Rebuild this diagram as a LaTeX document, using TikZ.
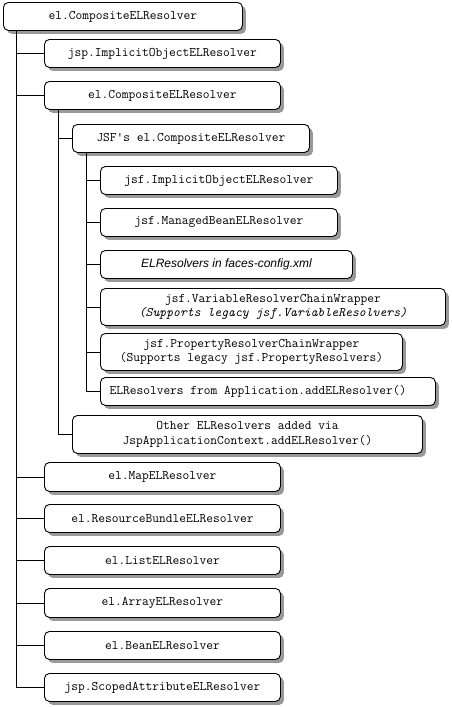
\documentclass[tikz,border=0pt]{standalone}
\usepackage{fontspec}
\newfontfamily\monofam{Latin Modern Mono}
\newfontfamily\sansfam{Liberation Sans}
\usetikzlibrary{shadows}
\tikzset{
  rbox/.style={draw=black, line width=0.9pt, fill=white, rounded corners=5pt, anchor=north west,
    inner sep=0pt, align=center, font=\monofam\fontsize{13.1}{14.5}\selectfont,
    drop shadow={shadow xshift=3.5pt, shadow yshift=-3.5pt, fill=black!40, opacity=1}},
  conn/.style={line width=0.9pt, black}
}
\newcommand{\rb}[6]{\node[rbox, minimum width=#3pt, minimum height=#4pt] (#5) at (#1,-#2) {#6};}
\begin{document}
\begin{tikzpicture}[x=1pt,y=1pt]
\useasboundingbox (0,0) rectangle (451,-707);
\rb{3}{2}{239}{28}{root}{el.CompositeELResolver}
\rb{44}{39}{236}{28}{ijsp}{jsp.ImplicitObjectELResolver}
\rb{44}{81}{236}{28}{comp}{el.CompositeELResolver}
\rb{72}{124}{237}{28}{jsfc}{JSF's el.CompositeELResolver}
\rb{100}{166}{237}{28}{jimp}{jsf.ImplicitObjectELResolver}
\rb{100}{208}{237}{28}{jmb}{jsf.ManagedBeanELResolver}
\rb{100}{250}{252}{28}{efc}{\sansfam\itshape\fontsize{12}{14}\selectfont ELResolvers in faces-config.xml}
\rb{100}{288}{345}{37}{jvr}{jsf.VariableResolverChainWrapper\\\itshape (Supports legacy jsf.VariableResolvers)}
\rb{100}{333}{302}{37}{jpr}{jsf.PropertyResolverChainWrapper\\(Supports legacy jsf.PropertyResolvers)}
\rb{100}{377}{335}{28}{eapp}{ELResolvers from Application.addELResolver()\hspace{20pt}}
\rb{72}{415}{350}{38}{other}{Other ELResolvers added via\\JspApplicationContext.addELResolver()}
\rb{44}{462}{236}{29}{map}{el.MapELResolver}
\rb{44}{504}{236}{28}{rbund}{el.ResourceBundleELResolver}
\rb{44}{546}{236}{28}{list}{el.ListELResolver}
\rb{44}{588}{236}{29}{arr}{el.ArrayELResolver}
\rb{44}{631}{236}{28}{bean}{el.BeanELResolver}
\rb{44}{673}{236}{28}{scoped}{jsp.ScopedAttributeELResolver}
% connectors
\foreach \c in {ijsp,comp,map,rbund,list,arr,bean,scoped}
  \draw[conn] ([xshift=13pt]root.south west) |- (\c.west);
\foreach \c in {jsfc,other}
  \draw[conn] ([xshift=14pt]comp.south west) |- (\c.west);
\foreach \c in {jimp,jmb,efc,jvr,jpr,eapp}
  \draw[conn] ([xshift=14pt]jsfc.south west) |- (\c.west);
\end{tikzpicture}
\end{document}
